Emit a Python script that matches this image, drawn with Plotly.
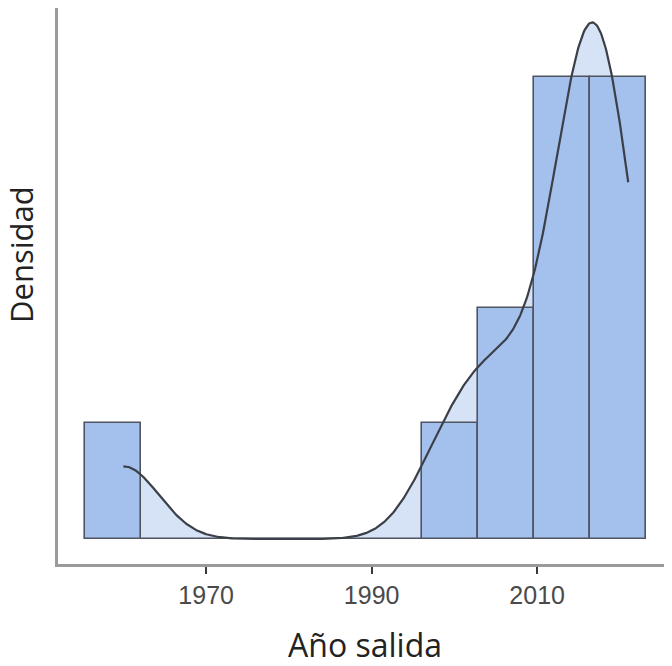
import numpy as np
import plotly.graph_objects as go

# Release years (one entry per item)
years = [1960, 1999, 2004, 2007, 2013, 2015, 2016, 2016, 2017, 2018, 2019, 2021]
tick_years = [1970, 1990, 2010]
tick_labels = ["1970", "1990", "2010"]
x_title = "Año salida"
y_title = "Densidad"

# Histogram binning: 10 bins, ggplot-style (boundary = width / 2)
n_bins = 10
bandwidth = 4.3

data = np.array(years, dtype=float)
bin_w = (data.max() - data.min()) / (n_bins - 1)
boundary = bin_w / 2
origin = boundary + np.floor((data.min() - boundary) / bin_w) * bin_w
edges = origin + bin_w * np.arange(n_bins + 1)
counts, _ = np.histogram(data, bins=edges)
centers = (edges[:-1] + edges[1:]) / 2
hist_dens = counts / (len(data) * bin_w)

# Gaussian kernel density estimate over the data range
grid = np.linspace(data.min(), data.max(), 512)
dens = np.exp(-0.5 * ((grid[:, None] - data[None, :]) / bandwidth) ** 2).sum(axis=1)
dens /= (len(data) * bandwidth * np.sqrt(2 * np.pi))

# page has an 8px body margin: figure is offset by (8, 8)
W, H = 664, 658
L, B = 50, 102
plot_w, plot_h = W - L, H - B
count_unit = 1.0 / (len(data) * bin_w)
px_per_dens = 115.6 / count_unit
x_range = [1952.1, 1952.1 + plot_w / 8.276]
y_range = [-25 / px_per_dens, (plot_h - 25) / px_per_dens]

fig = go.Figure()
fig.add_trace(go.Scatter(
    x=grid, y=dens, mode="lines", fill="tozeroy",
    fillcolor="rgb(214,226,245)", line=dict(width=0), hoverinfo="skip",
    showlegend=False, xaxis="x", yaxis="y"))
fig.add_trace(go.Bar(
    x=centers, y=hist_dens, width=bin_w,
    marker=dict(color="rgb(164,193,238)", line=dict(color="#4f5560", width=1.6)),
    showlegend=False, xaxis="x2", yaxis="y2"))
fig.add_trace(go.Scatter(
    x=grid, y=dens, mode="lines",
    line=dict(color="#3b3f48", width=2.2), showlegend=False,
    xaxis="x2", yaxis="y2"))

axis_common = dict(showgrid=False, zeroline=False, automargin=False)
fig.update_layout(
    width=W, height=H,
    margin=dict(l=L, r=0, t=0, b=B),
    paper_bgcolor="white", plot_bgcolor="white",
    bargap=0,
    xaxis=dict(
        range=x_range, tickvals=tick_years, ticktext=tick_labels,
        ticks="outside", ticklen=7, tickwidth=2, tickcolor="#3a3a3a",
        tickfont=dict(family="Liberation Sans, Arial", size=25, color="#4a4a4a"),
        showline=True, linecolor="#9a9a9a", linewidth=3,
        title=dict(text=x_title, font=dict(family="Open Sans", size=32, color="#222"), standoff=28),
        **axis_common),
    yaxis=dict(
        range=y_range, showticklabels=False, ticks="",
        showline=True, linecolor="#9a9a9a", linewidth=3,
        **axis_common),
    xaxis2=dict(range=x_range, overlaying="x", visible=False, **axis_common),
    yaxis2=dict(range=y_range, overlaying="y", visible=False, **axis_common),
    annotations=[dict(
        text=y_title, textangle=-90, xref="paper", yref="paper",
        x=(13 - L) / plot_w, y=(plot_h - 247) / plot_h, xanchor="center", yanchor="middle",
        borderpad=0,
        showarrow=False, font=dict(family="Open Sans", size=31, color="#222"))],
)

fig.write_html("out.html")
